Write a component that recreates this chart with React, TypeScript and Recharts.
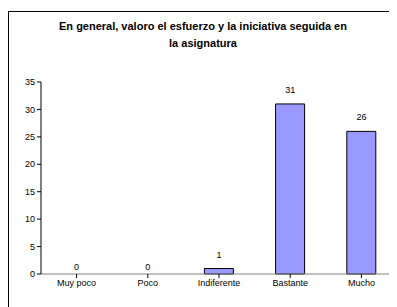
import React from "react";
import { ComposedChart, Bar, Scatter, XAxis, YAxis } from "recharts";

const categories = ["Muy poco", "Poco", "Indiferente", "Bastante", "Mucho"];
const counts = [0, 0, 1, 31, 26];
const yTicks = [0, 5, 10, 15, 20, 25, 30, 35];

const data = categories.map((name, i) => ({ name, value: counts[i] }));

const font = "'Liberation Sans', Arial, sans-serif";

// value labels drawn at each bar's top through the chart scales
const ValueLabel = (props: any) => {
  const { cx, cy, payload } = props;
  const v = payload.value;
  const off = v === 0 ? 4 : 11;
  return (
    <text
      x={cx}
      y={cy - off}
      textAnchor="middle"
      fontSize={9}
      fontFamily={font}
      fill="#000"
    >
      {v}
    </text>
  );
};

export default function App() {
  return (
    <div
      style={{
        position: "relative",
        width: 400,
        height: 310,
        borderTop: "1px solid #000",
        borderLeft: "1px solid #000",
        marginTop: 3,
        fontFamily: font,
      }}
    >
      <div
        style={{
          position: "absolute",
          left: 0,
          top: 6,
          width: 388,
          textAlign: "center",
          fontSize: 11,
          fontWeight: "bold",
          lineHeight: "17px",
        }}
      >
        En general, valoro el esfuerzo y la iniciativa seguida en
        <br />
        la asignatura
      </div>
      <ComposedChart
        width={389}
        height={300}
        data={data}
        margin={{ top: 70, right: 1, left: 0, bottom: 8 }}
        barCategoryGap="30%"
      >
        <XAxis
          dataKey="name"
          stroke="#808080"
          tickLine={{ stroke: "#000" }}
          tickSize={4}
          height={30}
          tick={{ fontSize: 9, fill: "#000", fontFamily: font }}
          interval={0}
        />
        <YAxis
          domain={[0, 35]}
          ticks={yTicks}
          width={32}
          stroke="#000"
          tickSize={4}
          tick={{ fontSize: 9, fill: "#000", fontFamily: font }}
        />
        <Bar
          dataKey="value"
          fill="#9999FF"
          stroke="#000"
          strokeWidth={1}
          barSize={29}
          isAnimationActive={false}
        />
        <Scatter dataKey="value" shape={ValueLabel} isAnimationActive={false} />
      </ComposedChart>
    </div>
  );
}
